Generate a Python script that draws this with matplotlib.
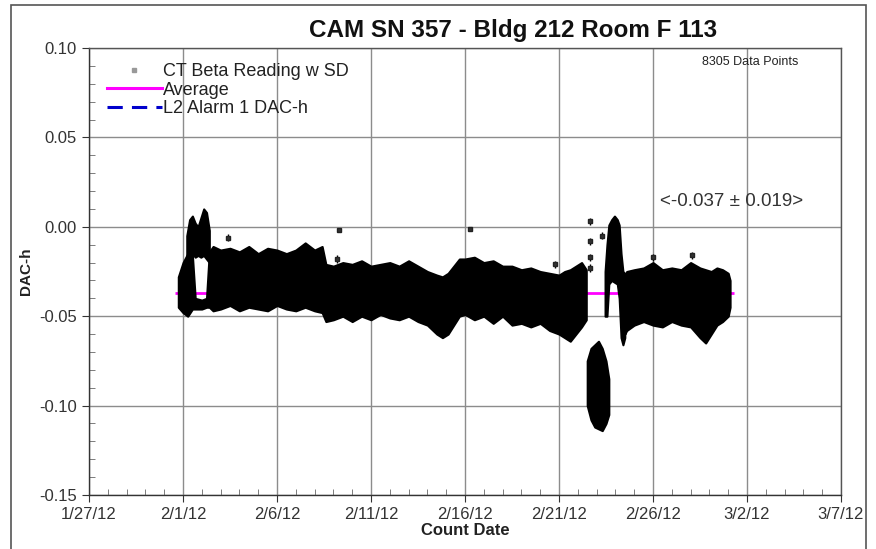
import datetime as dt
import numpy as np
import matplotlib
matplotlib.use("Agg")
import matplotlib.pyplot as plt
import matplotlib.dates as mdates
from matplotlib.ticker import FuncFormatter, MultipleLocator, FixedLocator
from matplotlib.lines import Line2D
from matplotlib.patches import Rectangle

plt.rcParams['font.family'] = ['Liberation Sans', 'DejaVu Sans']

# ---------------- data (days after 1/27/12, DAC-h) ----------------
title = "CAM SN 357 - Bldg 212 Room F 113"
n_points_text = "8305 Data Points"
avg_value = -0.037
avg_sd = 0.019
avg_start_day = 4.6
avg_end_day = 34.3

# main band, first stretch (envelope of readings incl. SD)
main_a_days = [4.75, 5.0, 5.25, 5.5, 5.65, 6.0, 6.25, 6.4, 6.6, 7.0, 7.5, 8.0, 8.5, 9.0,
               9.5, 10.0, 10.5, 11.0, 11.5, 12.0, 12.4, 12.6, 13.0, 13.5, 14.0, 14.5,
               15.0, 15.5, 16.0, 16.5, 17.0, 17.5, 18.0, 18.5, 18.8, 19.1, 19.4, 19.7,
               20.0, 20.5, 21.0, 21.5, 22.0, 22.5, 23.0, 23.5, 24.0, 24.5, 25.0, 25.3,
               25.6, 25.9, 26.2, 26.45]
main_a_lo = [-0.045, -0.048, -0.050, -0.046, -0.046, -0.046, -0.045, -0.045, -0.047, -0.046,
             -0.044, -0.047, -0.045, -0.046, -0.047, -0.044, -0.046, -0.047, -0.045, -0.047,
             -0.048, -0.053, -0.052, -0.050, -0.053, -0.050, -0.052, -0.049, -0.051, -0.052,
             -0.050, -0.053, -0.055, -0.060, -0.062, -0.060, -0.055, -0.050, -0.049, -0.052,
             -0.050, -0.054, -0.050, -0.055, -0.054, -0.056, -0.054, -0.058, -0.060, -0.062,
             -0.064, -0.060, -0.056, -0.052]
main_a_hi = [-0.028, -0.020, -0.015, -0.016, -0.040, -0.041, -0.040, -0.014, -0.011, -0.013,
             -0.012, -0.014, -0.011, -0.015, -0.012, -0.013, -0.015, -0.013, -0.009, -0.013,
             -0.011, -0.021, -0.022, -0.020, -0.021, -0.019, -0.022, -0.021, -0.020, -0.022,
             -0.019, -0.022, -0.025, -0.027, -0.028, -0.026, -0.022, -0.018, -0.018, -0.017,
             -0.020, -0.019, -0.022, -0.022, -0.024, -0.023, -0.025, -0.026, -0.027, -0.025,
             -0.024, -0.022, -0.020, -0.024]

# elevated readings at start (2/1 - 2/2)
raised_days = [5.2, 5.35, 5.5, 5.65, 5.8, 5.95, 6.1, 6.25, 6.4]
raised_lo = [-0.020, -0.018, -0.015, -0.017, -0.016, -0.017, -0.016, -0.018, -0.020]
raised_hi = [-0.005, 0.004, 0.006, 0.002, 0.000, 0.005, 0.010, 0.008, -0.002]

# low excursion around 2/23
drop_days = [26.5, 26.7, 26.9, 27.1, 27.3, 27.5, 27.65]
drop_lo = [-0.100, -0.108, -0.112, -0.113, -0.114, -0.110, -0.105]
drop_hi = [-0.075, -0.068, -0.066, -0.064, -0.068, -0.075, -0.085]

# high burst around 2/24
burst_days = [27.45, 27.55, 27.65, 27.8, 27.95, 28.1, 28.2, 28.3, 28.4, 28.5]
burst_lo = [-0.050, -0.050, -0.032, -0.030, -0.031, -0.032, -0.040, -0.062, -0.066, -0.062]
burst_hi = [-0.025, -0.010, 0.001, 0.004, 0.006, 0.004, 0.001, -0.015, -0.025, -0.026]

# main band, last stretch
main_b_days = [28.5, 28.6, 29.0, 29.5, 30.0, 30.5, 31.0, 31.5, 32.0, 32.5, 32.8, 33.1,
               33.4, 33.7, 34.0, 34.1]
main_b_lo = [-0.060, -0.058, -0.055, -0.053, -0.055, -0.056, -0.053, -0.055, -0.056,
             -0.062, -0.065, -0.060, -0.055, -0.053, -0.050, -0.045]
main_b_hi = [-0.028, -0.025, -0.024, -0.023, -0.020, -0.024, -0.023, -0.024, -0.020,
             -0.023, -0.024, -0.025, -0.023, -0.024, -0.026, -0.030]

# isolated readings
outlier_days = [7.39, 13.2, 13.3, 20.27, 24.8, 26.65, 26.65, 26.65, 26.65, 27.3, 30.0, 32.1]
outlier_vals = [-0.006, -0.018, -0.002, -0.001, -0.021, 0.003, -0.008, -0.017, -0.023, -0.005,
                -0.017, -0.016]
outlier_sd = [0.002, 0.002, 0.001, 0.001, 0.002, 0.002, 0.002, 0.002, 0.002, 0.002, 0.002, 0.002]

x_tick_days = [0, 5, 10, 15, 20, 25, 30, 35, 40]
y_ticks = [-0.15, -0.10, -0.05, 0.00, 0.05, 0.10]

# ---------------- drawing ----------------
base = mdates.date2num(dt.datetime(2012, 1, 27))
def D(days):
    return base + np.asarray(days, dtype=float)

fig = plt.figure(figsize=(8.76, 5.49), dpi=100)
fig.patches.append(Rectangle((11 / 876, -0.02), (866 - 11) / 876, 1.0 - 5 / 549 + 0.02,
                             transform=fig.transFigure, fill=False, edgecolor='#555555',
                             linewidth=1.2, zorder=0))
ax = fig.add_axes([89 / 876, 1 - 495 / 549, (841 - 89) / 876, (495 - 48) / 549])

ax.set_xlim(D(0), D(40))
ax.set_ylim(-0.15, 0.10)

ax.hlines(avg_value, D(avg_start_day), D(avg_end_day), color='#ff00ff', lw=2.0, zorder=2)

for days, lo, hi in [(main_a_days, main_a_lo, main_a_hi),
                     (raised_days, raised_lo, raised_hi),
                     (drop_days, drop_lo, drop_hi),
                     (burst_days, burst_lo, burst_hi),
                     (main_b_days, main_b_lo, main_b_hi)]:
    ax.fill_between(D(days), lo, hi, color='black', lw=1.5, edgecolor='black', zorder=3)

ax.errorbar(D(outlier_days), outlier_vals, yerr=outlier_sd, fmt='s', ms=3.5,
            color='#222222', mfc='#333333', ecolor='black', elinewidth=1, capsize=0, zorder=4)

ax.xaxis.set_major_locator(FixedLocator(D(x_tick_days)))
ax.xaxis.set_minor_locator(FixedLocator(D(np.arange(0, 41))))
ax.xaxis.set_major_formatter(FuncFormatter(
    lambda v, p: "{d.month}/{d.day}/{y}".format(d=mdates.num2date(v), y=mdates.num2date(v).strftime('%y'))))
ax.yaxis.set_major_locator(FixedLocator(y_ticks))
ax.yaxis.set_minor_locator(MultipleLocator(0.01))
ax.yaxis.set_major_formatter(FuncFormatter(lambda v, p: "{:.2f}".format(v)))

ax.grid(True, which='major', color='#8c8c8c', lw=1.0)
ax.set_axisbelow(True)
for s in ax.spines.values():
    s.set_color('#555555')
    s.set_linewidth(1.0)
ax.spines['bottom'].set_color('#333333')
ax.spines['left'].set_color('#333333')
ax.tick_params(which='major', direction='out', length=5, color='#333333',
               labelsize=12, labelcolor='#333333', top=False, right=False)
ax.tick_params(which='minor', direction='in', length=4, color='#666666', top=False, right=False)
ax.tick_params(axis='y', which='major', pad=4)

ax.set_xlabel("Count Date", fontsize=12, fontweight='bold', color='#222222', labelpad=1)
ax.set_ylabel("DAC-h", fontsize=11, fontweight='bold', color='#222222', labelpad=4)

fig.text(513 / 876, 1 - 30 / 549, title, ha='center', va='center', fontsize=17.5,
         fontweight='bold', color='#111111')
fig.text(750 / 876, 1 - 62 / 549, n_points_text, ha='center', va='center', fontsize=9,
         color='#222222')
fig.text(732 / 876, 1 - 202 / 549, "<{:.3f} \u00b1 {:.3f}>".format(avg_value, avg_sd),
         ha='center', va='center', fontsize=13.5, color='#333333')

handles = [Line2D([], [], ls='none', marker='s', ms=3.5, color='#999999'),
           Line2D([], [], color='#ff00ff', lw=2.2),
           Line2D([], [], color='#0000cc', lw=2.2, ls=(0, (5, 3)))]
labels = ["CT Beta Reading w SD", "Average", "L2 Alarm 1 DAC-h"]
leg = ax.legend(handles, labels, loc='upper left', bbox_to_anchor=(0.01, 0.99), frameon=False,
                labelspacing=0.08, handlelength=3.0, handletextpad=0.1,
                borderaxespad=0.2, prop={'size': 13})
for t in leg.get_texts():
    t.set_color('#222222')

fig.savefig("out.png", dpi=100, facecolor='white')
